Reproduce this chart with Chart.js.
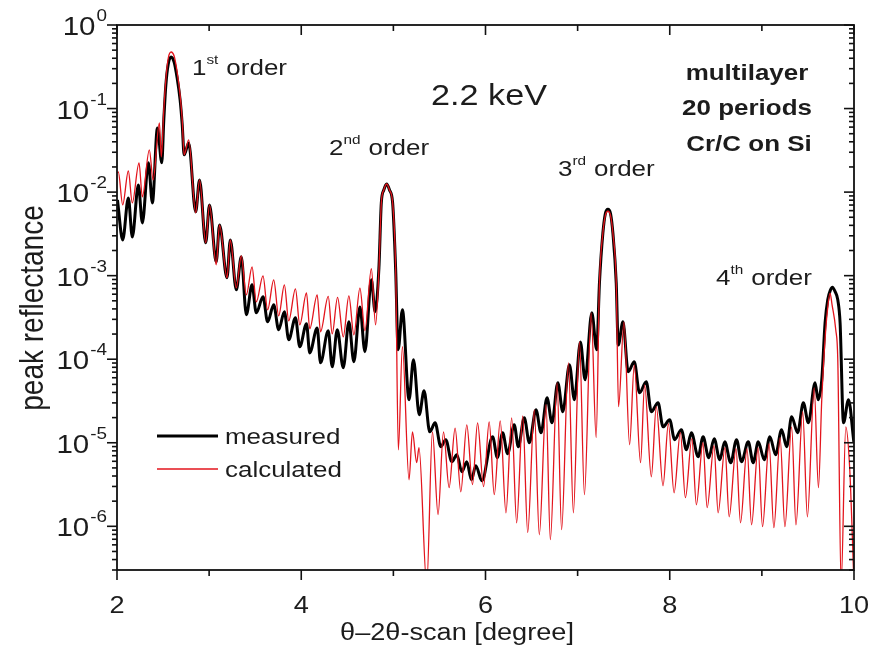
<!DOCTYPE html>
<html>
<head>
<meta charset="utf-8">
<title>Cr/C multilayer reflectance, 2.2 keV</title>
<script src="https://cdn.jsdelivr.net/npm/chart.js@4.4.1/dist/chart.umd.min.js"></script>
<style>
  html, body { margin: 0; padding: 0; background: #fff; }
  #wrap { width: 870px; height: 647px; }
</style>
</head>
<body>
<div id="wrap"><canvas id="chart" width="870" height="647"></canvas></div>
<script>
// theta-2theta scan of a 20 period Cr/C multilayer, measured vs calculated
// values (local maxima / minima of the fringes)

const measX = [2.005, 2.062, 2.123, 2.166, 2.232, 2.275, 2.341, 2.384, 2.439, 2.486,
  2.508, 2.530, 2.556, 2.588, 2.620, 2.653, 2.685, 2.708, 2.729, 2.778,
  2.854, 2.896, 2.963, 3.004, 3.077, 3.113, 3.194, 3.230, 3.295, 3.349,
  3.404, 3.466, 3.512, 3.585, 3.635, 3.701, 3.755, 3.817, 3.864, 3.937,
  3.984, 4.057, 4.092, 4.173, 4.209, 4.293, 4.336, 4.391, 4.456, 4.517,
  4.571, 4.637, 4.691, 4.761, 4.802, 4.843, 4.869, 4.896, 4.927, 4.958,
  4.992, 5.025, 5.052, 5.098, 5.170, 5.218, 5.281, 5.333, 5.395, 5.453,
  5.515, 5.569, 5.634, 5.689, 5.743, 5.797, 5.847, 5.895, 5.961, 6.077,
  6.129, 6.186, 6.240, 6.312, 6.356, 6.421, 6.476, 6.548, 6.603, 6.668,
  6.722, 6.785, 6.839, 6.911, 6.965, 7.030, 7.081, 7.154, 7.207, 7.237,
  7.274, 7.300, 7.329, 7.358, 7.383, 7.419, 7.441, 7.492, 7.549, 7.615,
  7.672, 7.745, 7.800, 7.873, 7.927, 7.999, 8.053, 8.126, 8.181, 8.235,
  8.308, 8.362, 8.423, 8.482, 8.543, 8.597, 8.662, 8.725, 8.779, 8.852,
  8.906, 8.961, 9.026, 9.087, 9.149, 9.214, 9.269, 9.323, 9.388, 9.450,
  9.505, 9.577, 9.611, 9.650, 9.686, 9.715, 9.745, 9.766, 9.795, 9.824,
  9.849, 9.886, 9.940, 9.998];

const measY = [0.00807, 0.00268, 0.00852, 0.00291, 0.0122, 0.00428, 0.0224, 0.00743, 0.0586, 0.0224,
  0.073, 0.19, 0.34, 0.414, 0.36, 0.232, 0.127, 0.064, 0.0279, 0.0388,
  0.0058, 0.014, 0.00247, 0.00703, 0.00146, 0.00405, 0.000941, 0.00268, 0.000676, 0.00168,
  0.00034, 0.000776, 0.000359, 0.000558, 0.00028, 0.000447, 0.000225, 0.000369, 0.000171, 0.000313,
  0.000141, 0.000265, 0.000119, 0.000237, 9.06e-5, 0.000219, 8.11e-5, 0.000225, 7.89e-5, 0.00028,
  9.31e-5, 0.000423, 0.000123, 0.000891, 0.000369, 0.00124, 0.00743, 0.0106, 0.0125, 0.0106,
  0.00743, 0.00117, 0.00013, 0.00039, 3.27e-5, 9.84e-5, 2.16e-5, 4.19e-5, 1.35e-5, 1.73e-5,
  8.96e-6, 1.09e-5, 5.93e-6, 7.19e-6, 4.5e-6, 5.93e-6, 3.61e-6, 5.31e-6, 3.51e-6, 1.18e-5,
  6.62e-6, 1.32e-5, 7.4e-6, 1.64e-5, 8.96e-6, 1.99e-5, 1e-5, 2.48e-5, 1.32e-5, 3.45e-5,
  1.73e-5, 5.22e-5, 2.35e-5, 8.57e-5, 3.27e-5, 0.000161, 5.67e-5, 0.000359, 0.00013, 0.00082,
  0.00322, 0.00548, 0.00624, 0.00548, 0.00322, 0.00082, 0.000148, 0.00028, 7.07e-5, 9.31e-5,
  3.96e-5, 5.37e-5, 2.35e-5, 3.01e-5, 1.55e-5, 1.88e-5, 1.09e-5, 1.43e-5, 8.25e-6, 1.32e-5,
  6.8e-6, 1.18e-5, 6.62e-6, 1.12e-5, 6.26e-6, 1.03e-5, 5.77e-6, 1.09e-5, 5.93e-6, 1.03e-5,
  5.77e-6, 1.03e-5, 6.26e-6, 1.18e-5, 7.19e-6, 1.43e-5, 8.96e-6, 2.05e-5, 1.32e-5, 3.01e-5,
  1.73e-5, 5.22e-5, 3.27e-5, 5.67e-5, 0.000273, 0.000514, 0.000676, 0.000729, 0.000643, 0.000514,
  0.000273, 1.73e-5, 3.27e-5, 1.03e-5];

const calcX = [2.000, 2.014, 2.062, 2.123, 2.166, 2.239, 2.275, 2.351, 2.392, 2.460,
  2.481, 2.508, 2.530, 2.556, 2.588, 2.620, 2.653, 2.685, 2.708, 2.729,
  2.778, 2.854, 2.896, 2.963, 3.004, 3.077, 3.113, 3.194, 3.230, 3.295,
  3.349, 3.404, 3.466, 3.512, 3.585, 3.635, 3.701, 3.755, 3.817, 3.864,
  3.937, 3.984, 4.057, 4.092, 4.173, 4.209, 4.293, 4.336, 4.394, 4.456,
  4.517, 4.571, 4.637, 4.691, 4.761, 4.807, 4.843, 4.869, 4.896, 4.927,
  4.958, 4.992, 5.025, 5.054, 5.098, 5.170, 5.207, 5.253, 5.278, 5.362,
  5.424, 5.485, 5.544, 5.605, 5.670, 5.732, 5.797, 5.859, 5.914, 5.979,
  6.040, 6.095, 6.160, 6.222, 6.284, 6.338, 6.404, 6.458, 6.530, 6.584,
  6.657, 6.704, 6.777, 6.826, 6.900, 6.954, 7.020, 7.074, 7.147, 7.201,
  7.237, 7.274, 7.300, 7.329, 7.358, 7.383, 7.419, 7.444, 7.503, 7.564,
  7.615, 7.683, 7.727, 7.800, 7.854, 7.927, 7.985, 8.047, 8.115, 8.170,
  8.240, 8.289, 8.360, 8.406, 8.480, 8.525, 8.599, 8.645, 8.719, 8.768,
  8.839, 8.888, 8.959, 9.007, 9.078, 9.130, 9.198, 9.250, 9.323, 9.370,
  9.443, 9.494, 9.568, 9.614, 9.650, 9.693, 9.718, 9.740, 9.762, 9.802,
  9.824, 9.860, 9.911, 9.954, 10.000];

const calcY = [0.017, 0.0174, 0.00703, 0.0179, 0.00743, 0.0224, 0.00876, 0.032, 0.014, 0.0673,
  0.0264, 0.096, 0.22, 0.4, 0.475, 0.425, 0.274, 0.145, 0.073, 0.0279,
  0.0421, 0.00564, 0.014, 0.00247, 0.00703, 0.00135, 0.00405, 0.000941, 0.00268, 0.000715,
  0.00172, 0.000589, 0.00127, 0.000486, 0.000995, 0.00039, 0.000891, 0.00033, 0.000776, 0.000288,
  0.000695, 0.000258, 0.000623, 0.000231, 0.000589, 0.000213, 0.000565, 0.000201, 0.00055, 0.000185,
  0.000573, 0.000196, 0.00071, 0.000219, 0.00121, 0.000258, 0.00117, 0.00743, 0.0106, 0.0125,
  0.0106, 0.00743, 0.00117, 8.25e-6, 0.000141, 3.61e-6, 1.35e-5, 5.77e-6, 8.71e-6, 2e-7,
  1.35e-5, 1.38e-6, 1.35e-5, 2.9e-6, 1.5e-5, 2.59e-6, 1.64e-5, 3.15e-6, 1.73e-5, 2.98e-6,
  1.78e-5, 2.39e-6, 1.83e-5, 1.45e-6, 1.99e-5, 1.1e-6, 2.1e-5, 8.39e-7, 2.48e-5, 7.93e-7,
  2.85e-5, 6.91e-7, 5.22e-5, 9.11e-7, 9.06e-5, 1.45e-6, 0.000161, 2.39e-6, 0.000359, 1.15e-5,
  0.00082, 0.00322, 0.0052, 0.0059, 0.0052, 0.00322, 0.00082, 2.7e-5, 0.00028, 9.46e-6,
  8.57e-5, 5.77e-6, 4.94e-5, 3.92e-6, 2.7e-5, 3.06e-6, 1.69e-5, 2.52e-6, 1.32e-5, 2.2e-6,
  1.12e-5, 1.81e-6, 1e-5, 1.67e-6, 9.21e-6, 1.45e-6, 8.71e-6, 1.3e-6, 8.48e-6, 1.1e-6,
  8.48e-6, 1.04e-6, 8.71e-6, 9.89e-7, 9.73e-6, 9.62e-7, 1.15e-5, 9.89e-7, 1.55e-5, 1.04e-6,
  2.35e-5, 1.3e-6, 4.55e-5, 2.9e-6, 3.27e-5, 0.000225, 0.000447, 0.000618, 0.000447, 0.000225,
  9.84e-5, 2e-7, 1.55e-5, 4.75e-6, 2e-7];

const xTicks = [2, 3, 4, 5, 6, 7, 8, 9, 10];
const xTickLabels = ['2', '', '4', '', '6', '', '8', '', '10'];
const yDecades = [1, 1e-1, 1e-2, 1e-3, 1e-4, 1e-5, 1e-6];
const yExpLabels = ['0', '-1', '-2', '-3', '-4', '-5', '-6'];
const yMinorSteps = [2, 3, 4, 5, 6, 7, 8, 9];

const RED = '#e3151d';
const INK = '#1c1c1c';
const FONT = '"Liberation Sans", Arial, Helvetica, sans-serif';
const SX = 1.18; // the source figure is stretched sideways, so is its lettering

function pts(xs, ys) { return xs.map((x, i) => ({ x, y: ys[i] })); }

// draw one string, returns its advance width on screen
function text(ctx, s, x, y, size, o = {}) {
  ctx.save();
  ctx.font = (o.bold ? 'bold ' : '') + size + 'px ' + FONT;
  ctx.fillStyle = o.color || INK;
  ctx.textAlign = o.align || 'left';
  ctx.textBaseline = o.base || 'alphabetic';
  ctx.translate(x, y);
  ctx.scale(SX, 1);
  if (o.rot) ctx.rotate(o.rot);
  ctx.fillText(s, 0, 0);
  const w = ctx.measureText(s).width * SX;
  ctx.restore();
  return w;
}

function orderLabel(ctx, num, sup, x, y) {
  const w1 = text(ctx, num, x, y, 22);
  const w2 = text(ctx, sup, x + w1, y - 11, 13);
  text(ctx, 'order', x + w1 + w2 + 8, y, 22);
}

function line(ctx, x1, y1, x2, y2) {
  ctx.beginPath(); ctx.moveTo(x1, y1); ctx.lineTo(x2, y2); ctx.stroke();
}

const decor = {
  id: 'decor',
  afterDraw(chart) {
    const { ctx, chartArea: a, scales: { x, y } } = chart;
    ctx.save();
    ctx.strokeStyle = '#111';
    ctx.lineWidth = 1.8;
    ctx.strokeRect(a.left, a.top, a.right - a.left, a.bottom - a.top);

    // x ticks: bottom ones hang below, top ones hang into the plot
    ctx.lineWidth = 1.6;
    xTicks.forEach((v, i) => {
      const px = x.getPixelForValue(v);
      const len = xTickLabels[i] ? 10 : 6;
      line(ctx, px, a.bottom, px, a.bottom + len);
      line(ctx, px, a.top, px, a.top + len);
      if (xTickLabels[i]) text(ctx, xTickLabels[i], px, 613, 23, { align: 'center' });
    });

    // y ticks: both sides point to the left
    for (let e = -7; e < 0; e++) {
      yMinorSteps.forEach(m => {
        const v = m * Math.pow(10, e);
        if (v < y.min || v > y.max) return;
        const py = y.getPixelForValue(v);
        line(ctx, a.left - 5, py, a.left, py);
        line(ctx, a.right - 5, py, a.right, py);
      });
    }
    yDecades.forEach((v, i) => {
      const py = y.getPixelForValue(v);
      line(ctx, a.left - 10, py, a.left, py);
      line(ctx, a.right - 10, py, a.right, py);
      ctx.save();
      ctx.font = '16px ' + FONT;
      const sw = ctx.measureText(yExpLabels[i]).width * SX;
      ctx.restore();
      text(ctx, yExpLabels[i], 107 - sw, py - 4, 16);
      text(ctx, '10', 107 - sw - 1, py + 10, 25, { align: 'right' });
    });

    // axis titles
    text(ctx, '\u03b8\u20132\u03b8-scan [degree]', 457, 640, 23, { align: 'center' });
    ctx.save();
    ctx.font = '28px ' + FONT;
    ctx.fillStyle = INK;
    ctx.textAlign = 'center';
    ctx.textBaseline = 'middle';
    ctx.translate(34, 308);
    ctx.scale(SX, 1);
    ctx.rotate(-Math.PI / 2);
    ctx.fillText('peak reflectance', 0, 0);
    ctx.restore();

    // annotations
    orderLabel(ctx, '1', 'st', 192, 75);
    orderLabel(ctx, '2', 'nd', 329, 155);
    orderLabel(ctx, '3', 'rd', 558, 176);
    orderLabel(ctx, '4', 'th', 716, 285);
    text(ctx, '2.2 keV', 431, 105, 29);
    text(ctx, 'multilayer', 747, 80, 22, { bold: true, align: 'center' });
    text(ctx, '20 periods', 747, 115, 22, { bold: true, align: 'center' });
    text(ctx, 'Cr/C on Si', 749, 151, 22, { bold: true, align: 'center' });

    // legend
    ctx.strokeStyle = '#000'; ctx.lineWidth = 3;
    line(ctx, 157, 436, 218, 436);
    ctx.strokeStyle = RED; ctx.lineWidth = 1.5;
    line(ctx, 157, 469, 218, 469);
    text(ctx, 'measured', 225, 444, 22);
    text(ctx, 'calculated', 225, 477, 22);
    ctx.restore();
  }
};

new Chart(document.getElementById('chart'), {
  type: 'line',
  data: {
    datasets: [
      { label: 'calculated', data: pts(calcX, calcY), borderColor: RED, borderWidth: 1.3,
        pointRadius: 0, cubicInterpolationMode: 'monotone', order: 1 },
      { label: 'measured', data: pts(measX, measY), borderColor: '#000', borderWidth: 3,
        pointRadius: 0, cubicInterpolationMode: 'monotone', order: 2 }
    ]
  },
  options: {
    responsive: false,
    animation: false,
    events: [],
    layout: { padding: { top: 25, right: 16, left: 0, bottom: 0 } },
    plugins: { legend: { display: false }, tooltip: { enabled: false } },
    scales: {
      x: {
        type: 'linear', min: 2, max: 10,
        grid: { display: false }, border: { display: false }, ticks: { display: false },
        afterFit(s) { s.height = 77; }
      },
      y: {
        type: 'logarithmic', min: 3e-7, max: 1,
        grid: { display: false }, border: { display: false }, ticks: { display: false },
        afterFit(s) { s.width = 117; }
      }
    }
  },
  plugins: [decor]
});
</script>
</body>
</html>
